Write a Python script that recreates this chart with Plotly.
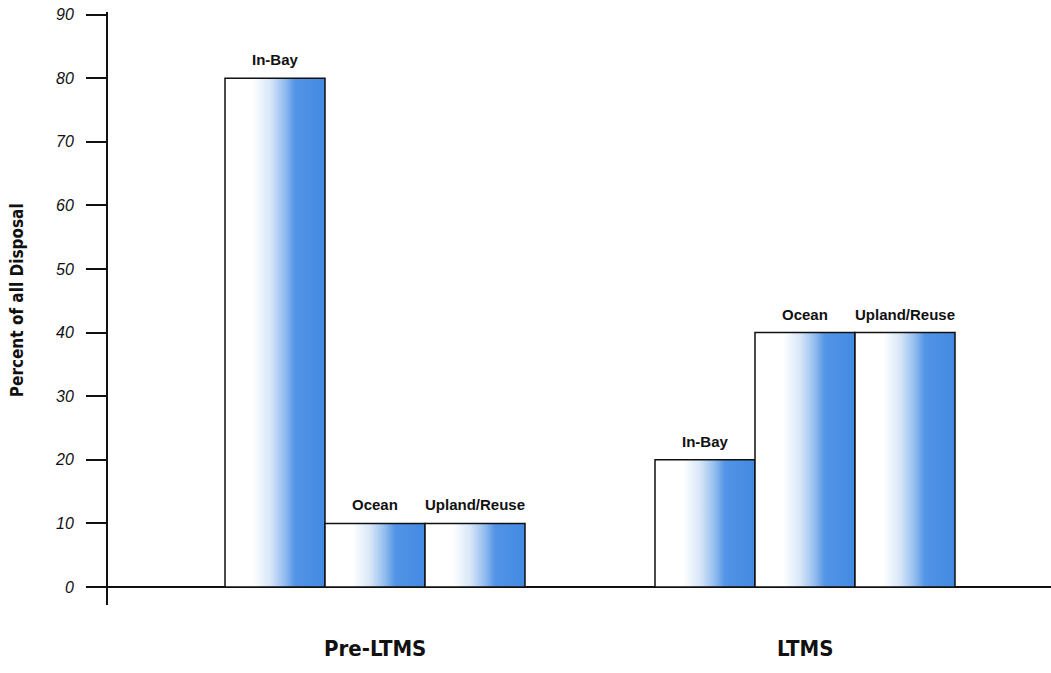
import plotly.graph_objects as go

# Disposal share by method, before and under the LTMS program
groups = ["Pre-LTMS", "LTMS"]
methods = ["In-Bay", "Ocean", "Upland/Reuse"]
pre_ltms = [80, 10, 10]
ltms = [20, 40, 40]
y_ticks = [0, 10, 20, 30, 40, 50, 60, 70, 80, 90]

series = [pre_ltms, ltms]
group_start = [0.0, 4.3]   # x of first bar centre in each group
bar_w = 1.0

gradient = [
    [0.0, "#ffffff"],
    [0.28, "#ffffff"],
    [0.45, "#d8e7f8"],
    [0.6, "#92bcef"],
    [0.7, "#5294e6"],
    [1.0, "#438ae3"],
]

COND = "DejaVu Sans Condensed, Liberation Sans Narrow, Arial Narrow, sans-serif"
SANS = "Liberation Sans, Arial, Helvetica, sans-serif"

fig = go.Figure()

for g, (start, vals) in enumerate(zip(group_start, series)):
    for i, (name, v) in enumerate(zip(methods, vals)):
        cx = start + i * bar_w
        x0, x1 = cx - bar_w / 2, cx + bar_w / 2
        fig.add_trace(go.Scatter(
            x=[x0, x0, x1, x1, x0],
            y=[0, v, v, 0, 0],
            mode="lines",
            fill="toself",
            fillgradient=dict(type="horizontal", colorscale=gradient),
            line=dict(color="#111111", width=1.5),
            hoverinfo="skip",
            showlegend=False,
        ))
        fig.add_annotation(
            x=cx, y=v, text=f"<b>{name}</b>", showarrow=False,
            yanchor="bottom", yshift=8,
            font=dict(family=SANS, size=15, color="#111111"),
        )
    fig.add_annotation(
        x=start + bar_w, y=0, xref="x", yref="paper",
        text=f"<b>{groups[g]}</b>", showarrow=False,
        yanchor="middle", yshift=-43,
        font=dict(family=COND, size=22, color="#111111"),
    )

# vertical axis title
fig.add_annotation(
    x=0, y=0.514, xref="paper", yref="paper",
    text="<b>Percent of all Disposal</b>", textangle=-90, showarrow=False,
    xanchor="center", yanchor="middle", xshift=-91,
    font=dict(family=COND, size=17, color="#111111"),
)

fig.update_layout(
    width=1051, height=673,
    margin=dict(l=108, r=0, t=12, b=68),
    plot_bgcolor="white", paper_bgcolor="white",
    xaxis=dict(
        range=[-1.67, 7.76], showgrid=False, zeroline=False,
        showticklabels=False, ticks="", showline=False,
    ),
    yaxis=dict(
        range=[-2.83, 90.4], tickvals=y_ticks,
        ticks="outside", ticklen=20, tickwidth=1.5, tickcolor="#111111",
        showline=True, linecolor="#111111", linewidth=2,
        showgrid=False, zeroline=True, zerolinecolor="#111111", zerolinewidth=2,
        tickfont=dict(family=SANS, size=16, color="#111111", style="italic"),
        ticklabelstandoff=9,
    ),
)

fig.write_html("out.html")
